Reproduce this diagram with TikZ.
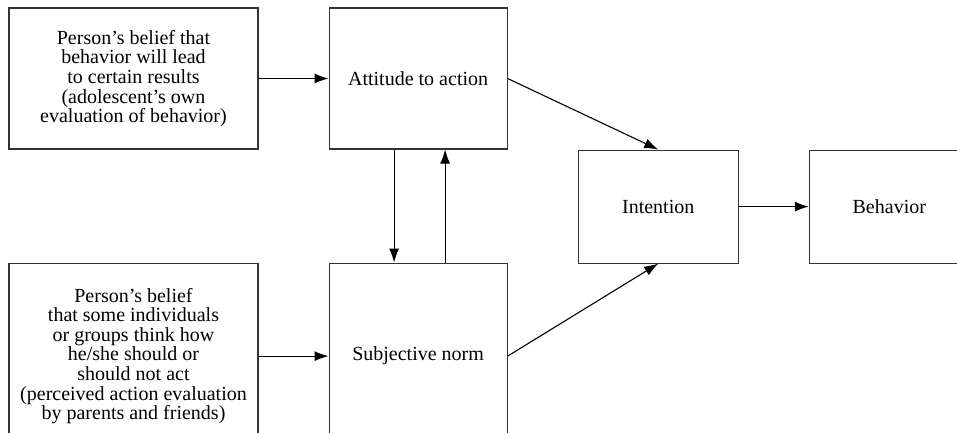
\documentclass[tikz,border=0pt]{standalone}
\usepackage{fontspec}
\setmainfont{Liberation Serif}
\usetikzlibrary{positioning,arrows.meta}
\tikzset{box node/.style={rectangle, draw=black!80, align=center, inner sep=2pt,
    font=\fontsize{20}{19.6}\selectfont},}

\begin{document}
\begin{tikzpicture}[-{Latex[length=14pt,width=10pt]}, line width=1.1pt]
        \path[use as bounding box] (0,0) rectangle (957pt,-432pt);
        \clip (0,0) rectangle (957pt,-432pt);
        % Nodes
        \node[box node, minimum width=249pt, minimum height=141pt] (belief1) at (133.5pt,-78.5pt)
            {Person's belief that\\ behavior will lead\\ to certain results\\ (adolescent's own\\ evaluation of behavior)};
        \node[box node, minimum width=178pt, minimum height=141pt] [right = 70pt of belief1] (attitude) {Attitude to action};
        \node[box node, minimum width=249pt, minimum height=186pt] [below = 113pt of belief1] (belief2)
            {Person's belief\\ that some individuals\\ or groups think how\\ he/she should or\\ should not act\\ (perceived action evaluation\\ by parents and friends)};
        \node[box node, minimum width=178pt, minimum height=186pt] [right = 70pt of belief2] (subjective) {Subjective norm};
        \node[box node, minimum width=160pt, minimum height=113pt] [below right = 0pt and 70pt of attitude.south east] (intention) {Intention};
        \node[box node, minimum width=160pt, minimum height=113pt] [right = 70pt of intention] (behavior) {Behavior};
        % Paths
        \path
        (belief1) edge (attitude)
        (belief2) edge (subjective)
        ([xshift=-24pt]attitude.south) edge ([xshift=-24pt]subjective.north)
        ([xshift=27pt]subjective.north) edge ([xshift=27pt]attitude.south)
        (attitude.east) edge (intention.north)
        (subjective.east) edge (intention.south)
        (intention) edge (behavior);
    \end{tikzpicture}
\end{document}
